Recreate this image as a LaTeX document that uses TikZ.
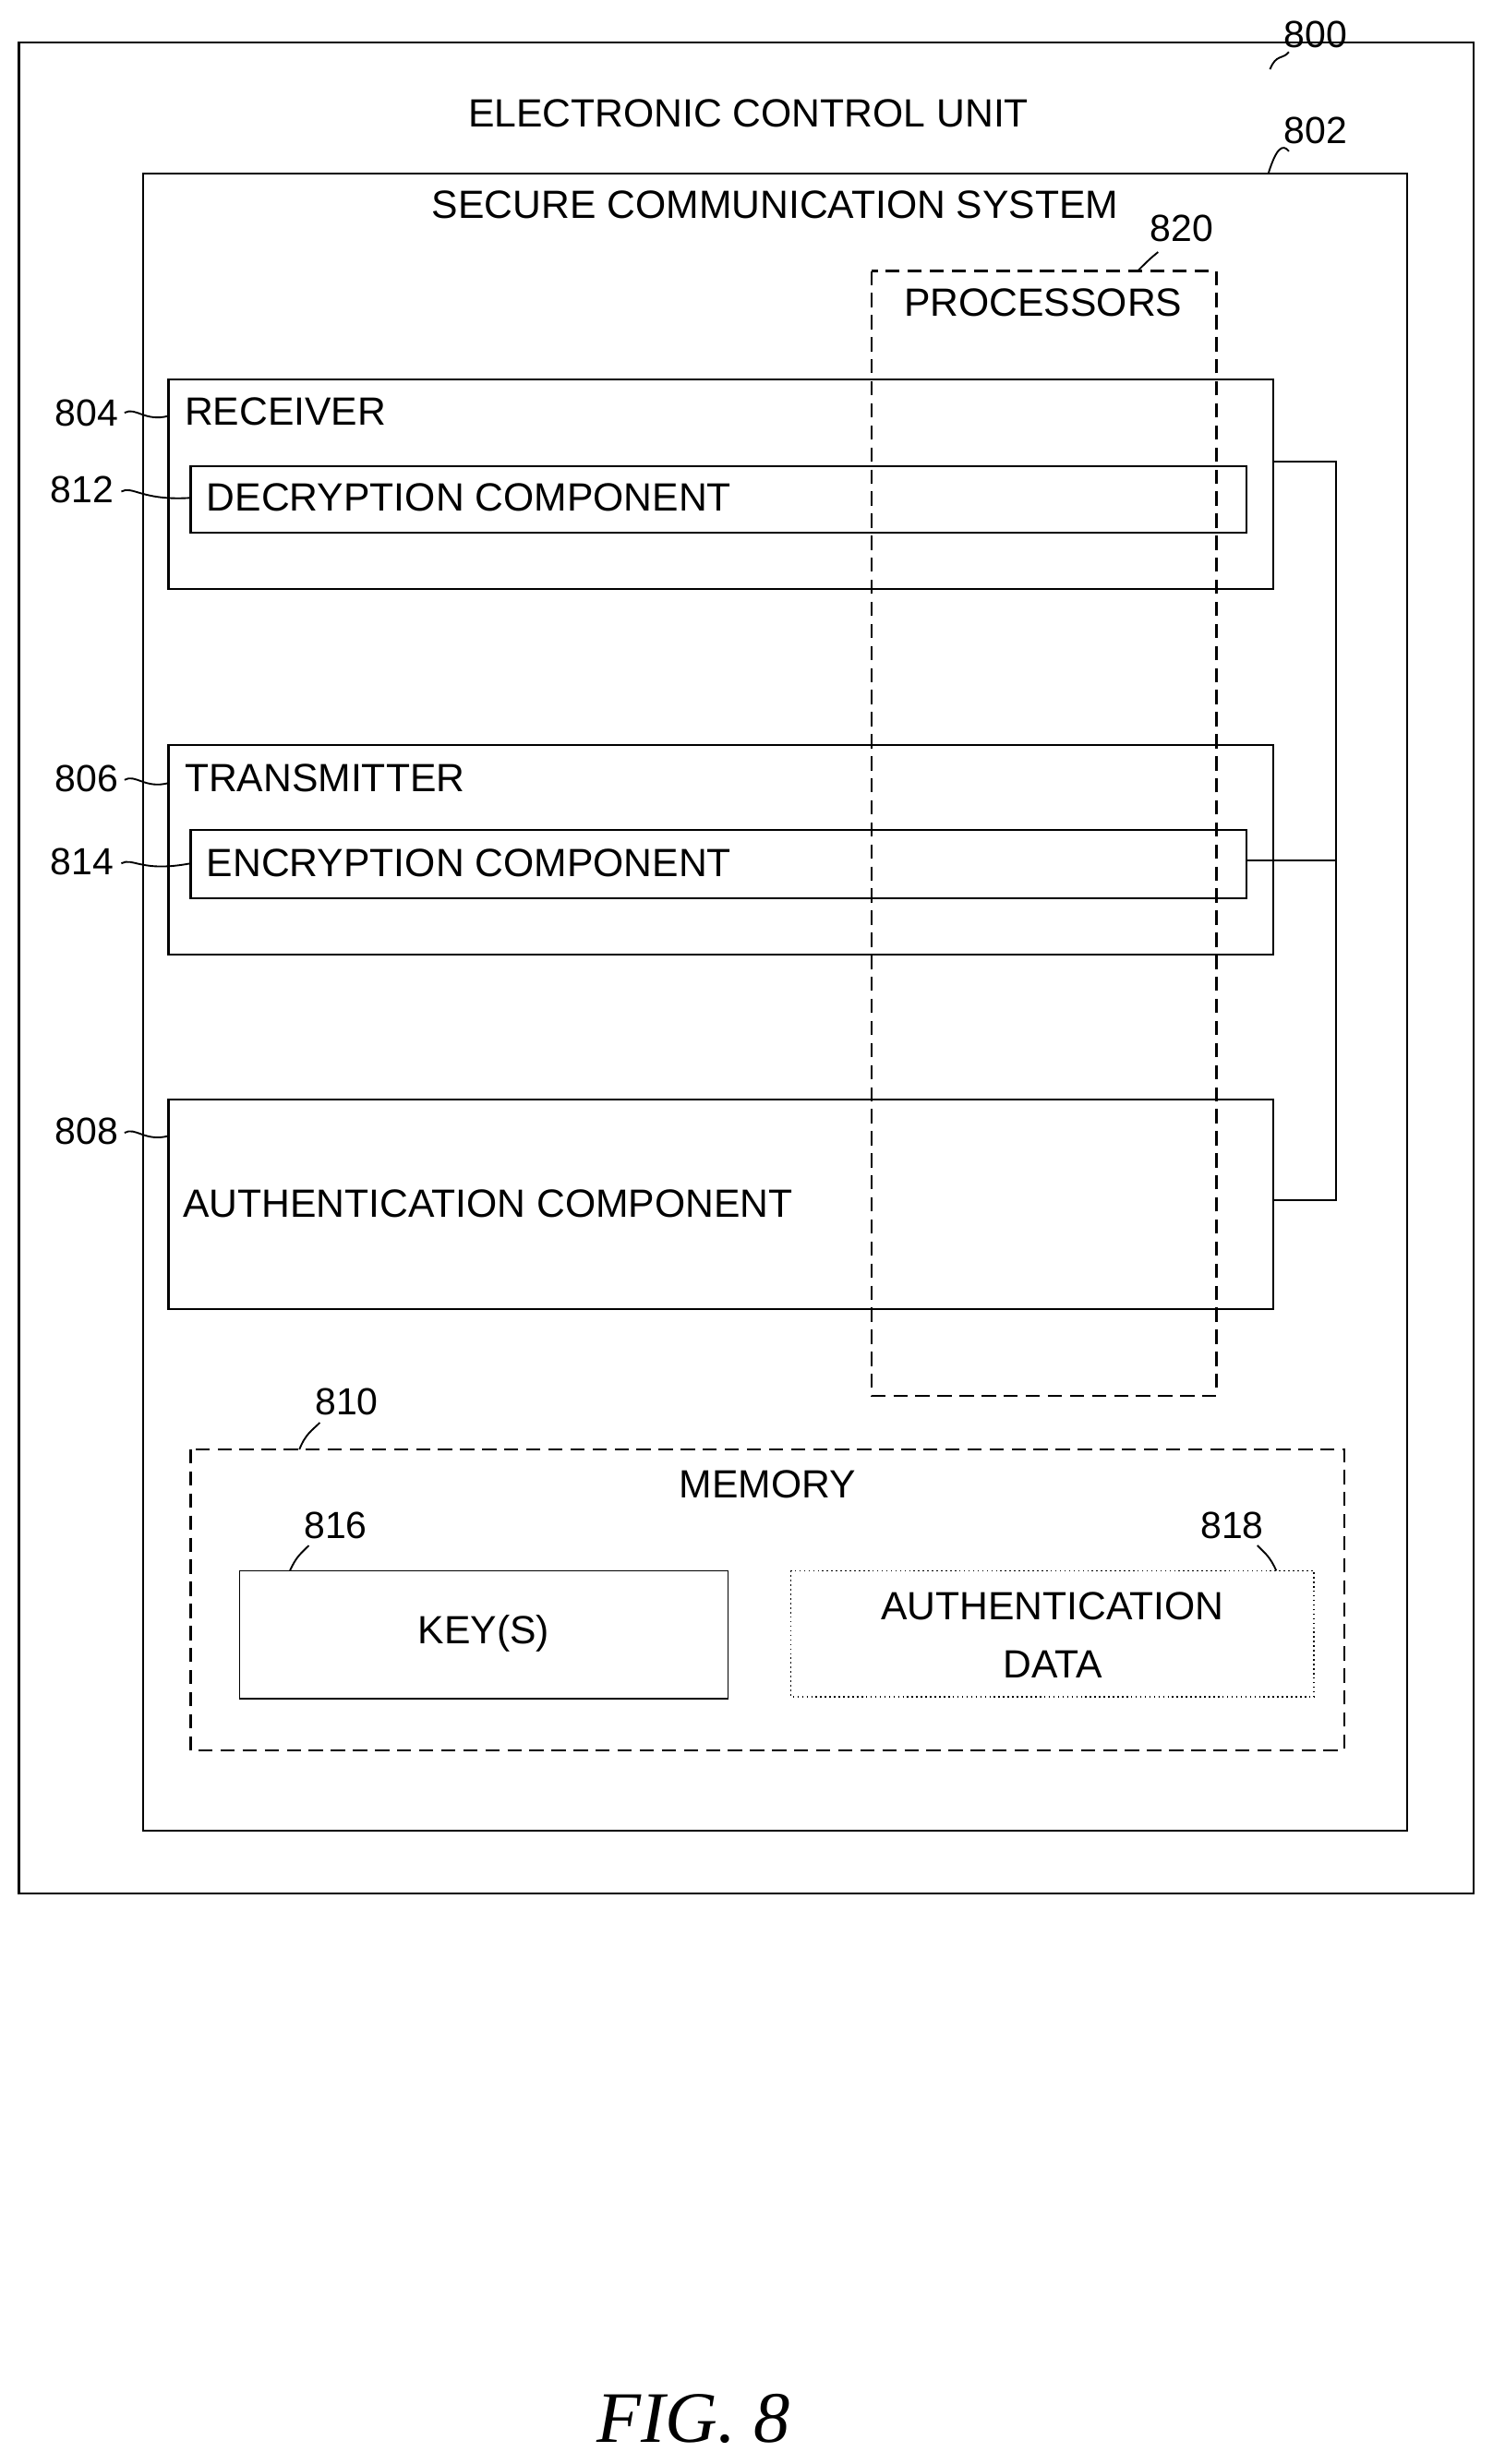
\documentclass[tikz,border=0pt]{standalone}
\usepackage{fontspec}
\setmainfont{Liberation Sans}
\newfontfamily\figfont{Liberation Serif}
\begin{document}
\begin{tikzpicture}[x=1pt,y=-1pt,
  box/.style={draw,line width=1.3pt,inner sep=0},
  dbox/.style={draw,line width=1.3pt,dash pattern=on 9pt off 5pt},
  txt/.style={font=\fontsize{25}{27}\selectfont,inner sep=0},
  ref/.style={font=\fontsize{24}{26}\selectfont,inner sep=0},
  lead/.style={line width=1.1pt}]
\useasboundingbox (0,0) rectangle (947,1564);
\draw[box] (12,27) rectangle (935,1202);
\node[txt] (ecu) at (475,72) {ELECTRONIC CONTROL UNIT};
\node[ref] (r800) at (835,22) {800};
\draw[lead] (818,33) .. controls (814,38) and (810,34) .. (806,44);
\draw[box] (91,110) rectangle (893,1162);
\node[txt] (scs) at (492,130) {SECURE COMMUNICATION SYSTEM};
\node[ref] (r802) at (835,83) {802};
\draw[lead] (818,96) .. controls (814,91) and (810,94) .. (805,110);
% processors
\draw[dbox] (553,172) rectangle (772,886);
\node[txt] (proc) at (662,192) {PROCESSORS};
\node[ref] (r820) at (750,145) {820};
\coordinate (c820) at (722,172);
\draw[lead] (735,160) .. controls (730,164) and (728,166) .. (c820);
% receiver
\draw[box] (107,241) rectangle (808,374);
\node[txt,anchor=west] (rec) at (117,261) {RECEIVER};
\draw[box] (121,296) rectangle (791,338);
\node[txt,anchor=west] (dec) at (131,316) {DECRYPTION COMPONENT};
\node[ref] (r804) at (55,262) {804};
\node[ref] (r812) at (52,311) {812};
\draw[lead] (79,262) .. controls (86,258) and (92,268) .. (107,264);
\draw[lead] (77,312) .. controls (84,308) and (90,318) .. (121,316);
% transmitter
\draw[box] (107,473) rectangle (808,606);
\node[txt,anchor=west] (tra) at (117,494) {TRANSMITTER};
\draw[box] (121,527) rectangle (791,570);
\node[txt,anchor=west] (enc) at (131,548) {ENCRYPTION COMPONENT};
\node[ref] (r806) at (55,494) {806};
\node[ref] (r814) at (52,547) {814};
\draw[lead] (79,495) .. controls (86,491) and (92,501) .. (107,497);
\draw[lead] (77,548) .. controls (84,544) and (90,554) .. (121,548);
% authentication
\draw[box] (107,698) rectangle (808,831);
\node[txt,anchor=west] (auth) at (116,764) {AUTHENTICATION COMPONENT};
\node[ref] (r808) at (55,718) {808};
\draw[lead] (79,719) .. controls (86,715) and (92,725) .. (107,721);
% bracket
\draw[line width=1.3pt] (808,293) -- (848,293) -- (848,762) -- (808,762);
\draw[line width=1.3pt] (791,546) -- (848,546);
% memory
\draw[dbox] (121,920) rectangle (853,1111);
\node[txt] (mem) at (487,942) {MEMORY};
\node[ref] (r810) at (220,890) {810};
\draw[lead] (203,903) .. controls (198,908) and (194,910) .. (190,920);
\draw[box,line width=1pt] (152,997) rectangle (462,1078);
\node[txt] (key) at (307,1037) {KEY(S)};
\node[ref] (r816) at (213,968) {816};
\draw[lead] (196,981) .. controls (191,986) and (188,988) .. (184,997);
\draw[line width=0.9pt,dotted] (502,997) rectangle (834,1077);
\node[txt,align=center,font=\fontsize{25}{37}\selectfont] (ad) at (668,1038) {AUTHENTICATION\\DATA};
\node[ref] (r818) at (782,968) {818};
\draw[lead] (798,981) .. controls (803,986) and (806,988) .. (810,997);
\node[font=\figfont\itshape\fontsize{46}{50}\selectfont] (fig) at (440,1535) {FIG. 8};
\end{tikzpicture}
\end{document}
